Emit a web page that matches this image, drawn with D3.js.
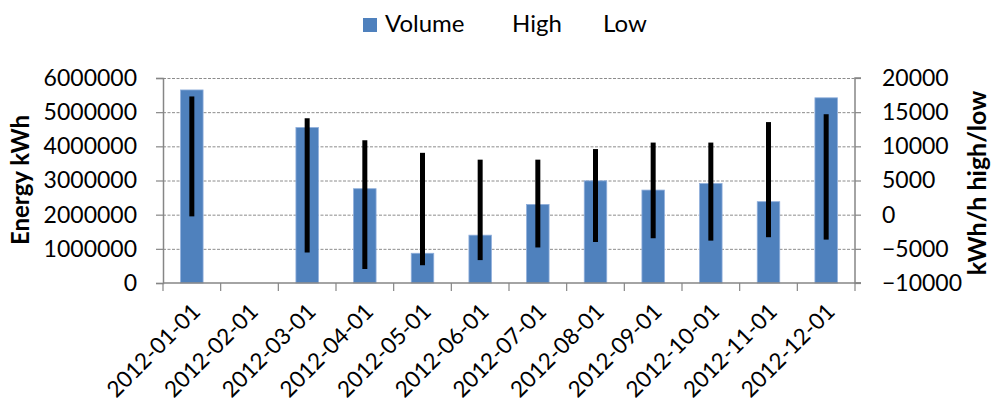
<!DOCTYPE html>
<html>
<head>
<meta charset="utf-8">
<script src="https://cdn.jsdelivr.net/npm/d3@7/dist/d3.min.js"></script>
<style>
  html, body { margin: 0; padding: 0; background: #fff; }
  svg text { font-family: Lato, "Open Sans", sans-serif; fill: #000; }
</style>
</head>
<body>
<svg id="chart" width="994" height="407"></svg>
<script>
const categories = ["2012-01-01","2012-02-01","2012-03-01","2012-04-01","2012-05-01","2012-06-01",
                    "2012-07-01","2012-08-01","2012-09-01","2012-10-01","2012-11-01","2012-12-01"];
const volume = [5650000, null, 4550000, 2760000, 870000, 1400000, 2300000, 2990000, 2720000, 2910000, 2380000, 5420000];
const high   = [17300, null, 14100, 10900, 9050, 8050, 8050, 9600, 10550, 10550, 13550, 14700];
const low    = [-250, null, -5550, -7950, -7400, -6650, -4800, -4000, -3450, -3800, -3300, -3650];
const leftTicks  = [0, 1000000, 2000000, 3000000, 4000000, 5000000, 6000000];
const rightTicks = [-10000, -5000, 0, 5000, 10000, 15000, 20000];
const legendLabels = ["Volume", "High", "Low"];

const svg = d3.select("#chart");
const plot = { left: 163, right: 855, top: 78, bottom: 283 };
const axisColor = "#868686";

const x = d3.scaleBand().domain(categories).range([plot.left, plot.right]).padding(0);
const yL = d3.scaleLinear().domain([0, 6000000]).range([plot.bottom, plot.top]);
const yR = d3.scaleLinear().domain([-10000, 20000]).range([plot.bottom, plot.top]);

// gridlines
svg.append("g").selectAll("line")
  .data(leftTicks.filter(d => d > 0))
  .join("line")
  .attr("x1", plot.left).attr("x2", plot.right)
  .attr("y1", d => yL(d) + 0.5).attr("y2", d => yL(d) + 0.5)
  .attr("stroke", "#8c8c8c").attr("stroke-width", 1)
  .attr("stroke-dasharray", "3,1.5");

// bars
const bw = x.bandwidth() * 0.39;
svg.append("g").selectAll("rect")
  .data(categories.map((c, i) => ({ c, v: volume[i] })).filter(d => d.v != null))
  .join("rect")
  .attr("x", d => x(d.c) + x.bandwidth() / 2 - bw / 2)
  .attr("width", bw)
  .attr("y", d => yL(d.v))
  .attr("height", d => yL(0) - yL(d.v))
  .attr("fill", "#4F81BD")
  .attr("stroke", "#8FAEDB").attr("stroke-width", 0.8);

// high-low lines
svg.append("g").selectAll("line")
  .data(categories.map((c, i) => ({ c, h: high[i], l: low[i] })).filter(d => d.h != null))
  .join("line")
  .attr("x1", d => x(d.c) + x.bandwidth() / 2)
  .attr("x2", d => x(d.c) + x.bandwidth() / 2)
  .attr("y1", d => yR(d.h)).attr("y2", d => yR(d.l))
  .attr("stroke", "#000").attr("stroke-width", 5);

// left axis
const gL = svg.append("g").attr("transform", `translate(${plot.left},0)`)
  .call(d3.axisLeft(yL).tickValues(leftTicks).tickFormat(d3.format("d")).tickSize(7).tickPadding(19));
// right axis
const gR = svg.append("g").attr("transform", `translate(${plot.right},0)`)
  .call(d3.axisRight(yR).tickValues(rightTicks).tickFormat(d3.format("d")).tickSize(6).tickPadding(21));
[gL, gR].forEach(g => {
  g.select(".domain").attr("stroke", axisColor).attr("stroke-width", 1.5);
  g.selectAll(".tick line").attr("stroke", axisColor).attr("stroke-width", 1.2);
  g.selectAll(".tick text").attr("font-size", 23).attr("font-family", "Lato, sans-serif").attr("fill", "#000");
});
gR.select(".domain").attr("d", `M6,${plot.bottom}H0V${plot.top}H6`);

// x axis
const gX = svg.append("g");
gX.append("line").attr("x1", plot.left).attr("x2", plot.right + 6)
  .attr("y1", plot.bottom).attr("y2", plot.bottom)
  .attr("stroke", axisColor).attr("stroke-width", 1.5);
const bounds = categories.map(c => x(c)).concat([plot.right]);
gX.selectAll("line.tk").data(bounds).join("line").attr("class", "tk")
  .attr("x1", d => d).attr("x2", d => d)
  .attr("y1", plot.bottom).attr("y2", plot.bottom + 8)
  .attr("stroke", axisColor).attr("stroke-width", 1.2);
gX.selectAll("text").data(categories).join("text")
  .attr("transform", d => `translate(${x(d) + x.bandwidth() / 2 + 10},${plot.bottom + 30}) rotate(-45)`)
  .attr("text-anchor", "end")
  .attr("font-size", 22.5)
  .text(d => d);

// axis titles
svg.append("text")
  .attr("transform", "translate(29,180) rotate(-90)")
  .attr("text-anchor", "middle").attr("font-size", 24).attr("font-weight", "bold")
  .text("Energy kWh");
svg.append("text")
  .attr("transform", "translate(986,183) rotate(-90)")
  .attr("text-anchor", "middle").attr("font-size", 25).attr("font-weight", "bold")
  .text("kWh/h high/low");

// legend
const legend = svg.append("g");
const legX = [385, 512, 603];
legend.append("rect").attr("x", 363).attr("y", 18).attr("width", 14).attr("height", 14).attr("fill", "#4F81BD");
legend.selectAll("text").data(legendLabels).join("text")
  .attr("x", (d, i) => legX[i]).attr("y", 32)
  .attr("font-size", 24)
  .text(d => d);
</script>
</body>
</html>
